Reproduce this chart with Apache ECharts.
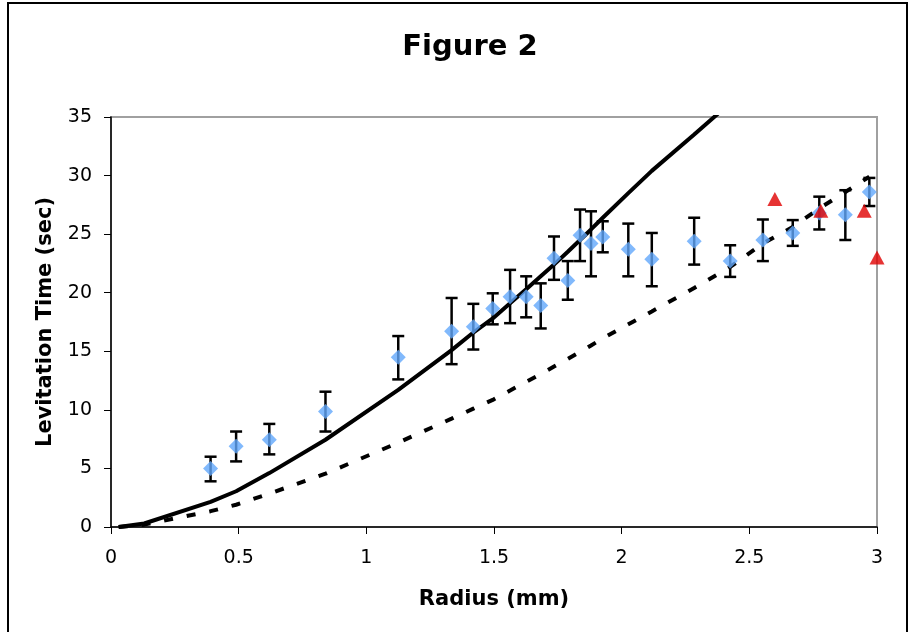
<!DOCTYPE html>
<html>
<head>
<meta charset="utf-8">
<script src="https://cdn.jsdelivr.net/npm/echarts@6/dist/echarts.min.js"></script>
<style>
  html, body { margin: 0; padding: 0; background: #ffffff; }
  #chart { width: 910px; height: 632px; }
</style>
</head>
<body>
<div id="chart"></div>
<script>
// Measured levitation times (mean with min/max spread) by drop radius
const radius   = [0.39, 0.49, 0.62, 0.84, 1.125, 1.334, 1.419, 1.495, 1.563, 1.626, 1.683, 1.735, 1.789, 1.837, 1.88, 1.926, 2.026, 2.118, 2.284, 2.425, 2.553, 2.67, 2.774, 2.876, 2.97];
const levTime  = [5.0, 6.9, 7.45, 9.85, 14.5, 16.7, 17.1, 18.65, 19.65, 19.65, 18.9, 22.95, 21.05, 24.9, 24.2, 24.75, 23.7, 22.85, 24.4, 22.7, 24.5, 25.1, 26.8, 26.65, 28.6];
const errLow   = [3.9, 5.6, 6.2, 8.15, 12.6, 13.9, 15.15, 17.3, 17.4, 17.9, 16.95, 21.1, 19.4, 22.7, 21.4, 23.45, 21.4, 20.55, 22.4, 21.35, 22.7, 24.0, 25.4, 24.5, 27.4];
const errHigh  = [6.0, 8.15, 8.8, 11.55, 16.3, 19.55, 19.05, 19.95, 21.95, 21.4, 20.8, 24.8, 22.7, 27.1, 26.95, 26.1, 25.9, 25.1, 26.4, 24.05, 26.25, 26.2, 28.2, 28.75, 29.8];

// Single runs shown as red triangles
const singleRadius = [2.6, 2.78, 2.95, 3.0];
const singleTime   = [28, 27, 27, 23];

// Model curves
const solidRadius  = [0.03, 0.13, 0.39, 0.49, 0.62, 0.84, 1.125, 1.334, 1.419, 1.495, 1.563, 1.626, 1.683, 1.735, 1.789, 1.837, 1.88, 1.926, 2.026, 2.118, 2.284, 2.425];
const solidTime    = [0, 0.3, 2.15, 3.05, 4.6, 7.45, 11.7, 15.1, 16.6, 17.8, 19.1, 20.3, 21.4, 22.4, 23.5, 24.5, 25.4, 26.4, 28.5, 30.4, 33.5, 36.2];
const dashedRadius = [0.03, 0.13, 0.39, 0.49, 0.62, 0.84, 1.125, 1.334, 1.419, 1.495, 1.563, 1.626, 1.683, 1.735, 1.789, 1.837, 1.88, 1.926, 2.026, 2.118, 2.284, 2.425, 2.553, 2.67, 2.774, 2.876, 2.97];
const dashedTime   = [0, 0.2, 1.35, 1.9, 2.85, 4.55, 7.2, 9.25, 10.1, 10.85, 11.65, 12.4, 13.05, 13.7, 14.35, 14.95, 15.5, 16.1, 17.3, 18.4, 20.4, 22.2, 24.2, 25.6, 27.2, 28.6, 29.9];

// Axis tick labels
const xTickLabels = ['0', '0.5', '1', '1.5', '2', '2.5', '3'];
const yTickLabels = ['0', '5', '10', '15', '20', '25', '30', '35'];

const zip = (xs, ys) => xs.map((x, i) => [x, ys[i]]);
const errData = radius.map((r, i) => [r, errLow[i], errHigh[i]]);

const FONT = 'DejaVu Sans';
const chart = echarts.init(document.getElementById('chart'), null, { renderer: 'canvas' });

chart.setOption({
  animation: false,
  backgroundColor: '#ffffff',
  title: {
    text: 'Figure 2',
    left: 465,
    top: 28,
    textAlign: 'center',
    textStyle: { fontFamily: FONT, fontWeight: 'bold', fontSize: 29, color: '#000' }
  },
  graphic: [{
    type: 'rect',
    shape: { x: 8, y: 3, width: 899, height: 680 },
    style: { fill: 'none', stroke: '#000', lineWidth: 2 },
    silent: true,
    z: 100
  }],
  grid: {
    left: 111, right: 33, top: 117, bottom: 105,
    containLabel: false,
    outerBoundsMode: 'none',
    show: true,
    borderColor: '#a0a0a0',
    borderWidth: 2,
    backgroundColor: '#fff'
  },
  xAxis: {
    type: 'value',
    min: 0, max: 3, interval: 0.5,
    name: 'Radius (mm)',
    nameLocation: 'middle',
    nameGap: 62,
    nameTextStyle: { fontFamily: FONT, fontWeight: 'bold', fontSize: 21, color: '#000' },
    axisLine: { show: true, onZero: false, lineStyle: { color: '#000', width: 1.5 } },
    axisTick: { show: true, inside: false, length: 7, lineStyle: { color: '#000', width: 1 } },
    axisLabel: {
      margin: 22,
      fontFamily: FONT, fontSize: 19, color: '#000',
      formatter: v => xTickLabels[Math.round(v / 0.5)]
    },
    splitLine: { show: false }
  },
  yAxis: {
    type: 'value',
    min: 0, max: 35, interval: 5,
    name: 'Levitation Time (sec)',
    nameLocation: 'middle',
    nameGap: 55,
    nameTextStyle: { fontFamily: FONT, fontWeight: 'bold', fontSize: 21, color: '#000' },
    axisLine: { show: true, onZero: false, lineStyle: { color: '#000', width: 1.5 } },
    axisTick: { show: true, inside: false, length: 7, lineStyle: { color: '#000', width: 1 } },
    axisLabel: {
      margin: 19,
      fontFamily: FONT, fontSize: 19, color: '#000',
      formatter: v => yTickLabels[Math.round(v / 5)]
    },
    splitLine: { show: false }
  },
  series: [
    {
      name: 'model',
      type: 'line',
      data: zip(solidRadius, solidTime),
      showSymbol: false,
      symbol: 'none',
      clip: true,
      lineStyle: { color: '#000', width: 4 },
      z: 2
    },
    {
      name: 'model (reduced)',
      type: 'line',
      data: zip(dashedRadius, dashedTime),
      showSymbol: false,
      symbol: 'none',
      clip: true,
      lineStyle: { color: '#000', width: 4, type: [9, 14] },
      z: 2
    },
    {
      name: 'spread',
      type: 'custom',
      data: errData,
      clip: false,
      z: 3,
      renderItem: function (params, api) {
        const x = api.value(0);
        const lo = api.coord([x, api.value(1)]);
        const hi = api.coord([x, api.value(2)]);
        const cap = 6;
        const style = { stroke: '#000', lineWidth: 2.5 };
        return {
          type: 'group',
          children: [
            { type: 'line', shape: { x1: hi[0], y1: hi[1], x2: lo[0], y2: lo[1] }, style: style },
            { type: 'line', shape: { x1: hi[0] - cap, y1: hi[1], x2: hi[0] + cap, y2: hi[1] }, style: style },
            { type: 'line', shape: { x1: lo[0] - cap, y1: lo[1], x2: lo[0] + cap, y2: lo[1] }, style: style }
          ]
        };
      }
    },
    {
      name: 'measured',
      type: 'scatter',
      data: zip(radius, levTime),
      symbol: 'diamond',
      symbolSize: [15, 15],
      itemStyle: { color: '#62a8fb' },
      clip: false,
      z: 4
    },
    {
      name: 'single',
      type: 'scatter',
      data: zip(singleRadius, singleTime),
      symbol: 'triangle',
      symbolSize: [15, 14],
      itemStyle: { color: '#e00000' },
      clip: false,
      z: 5
    }
  ]
});
</script>
</body>
</html>
